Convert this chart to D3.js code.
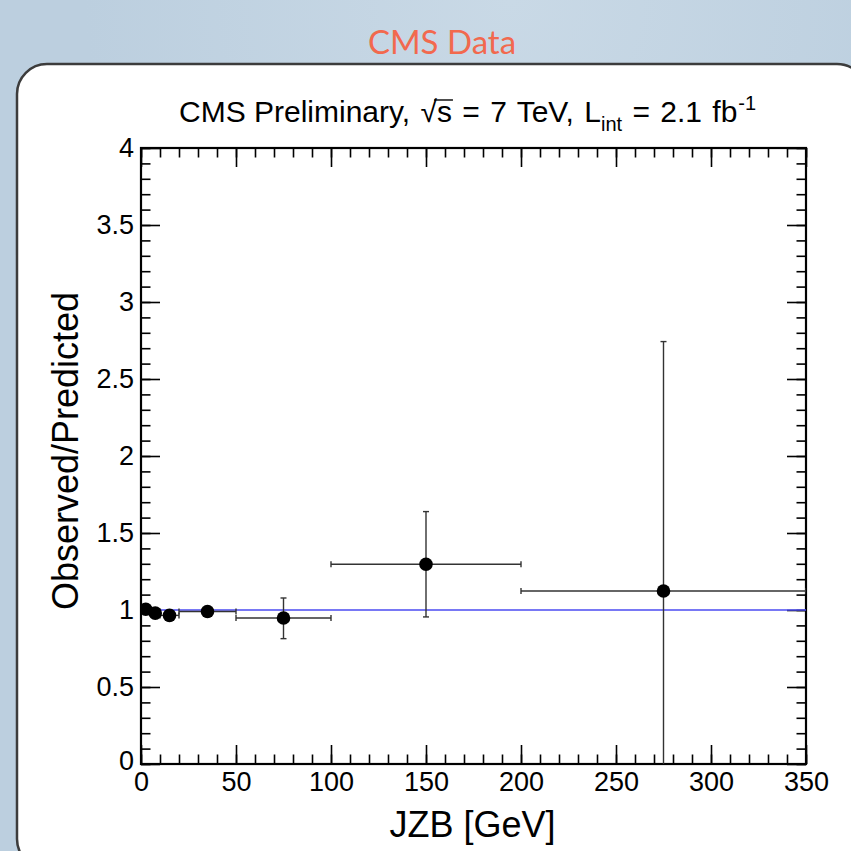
<!DOCTYPE html>
<html>
<head>
<meta charset="utf-8">
<script src="https://cdn.jsdelivr.net/npm/d3@7"></script>
<style>
  html, body { margin: 0; padding: 0; background: #bccfdf; overflow: hidden; }
  svg { display: block; }
  text { font-family: "Liberation Sans", Arial, Helvetica, sans-serif; }
</style>
</head>
<body>
<svg id="chart" width="851" height="851"></svg>
<script>
// JZB bins and observed/predicted ratio
const binLow = [0, 5, 10, 20, 50, 100, 200];
const binHigh = [5, 10, 20, 50, 100, 200, 350];
const binCenter = [2.5, 7.5, 15, 35, 75, 150, 275];
const ratio = [1.005, 0.98, 0.965, 0.99, 0.948, 1.297, 1.123];
const errDown = [0.012, 0.012, 0.012, 0.03, 0.134, 0.342, 1.2];
const errUp = [0.012, 0.012, 0.012, 0.03, 0.13, 0.342, 1.62];

const xMajor = [0, 50, 100, 150, 200, 250, 300, 350];
const yMajor = [0, 0.5, 1, 1.5, 2, 2.5, 3, 3.5, 4];
const xMinor = d3.range(0, 351, 10);
const yMinor = d3.range(0, 41).map(d => d / 10);

const points = binCenter.map((c, i) => ({
    x: c, lo: binLow[i], hi: binHigh[i],
    y: ratio[i], yLo: ratio[i] - errDown[i], yHi: ratio[i] + errUp[i]
}));

const svg = d3.select('#chart');

// background with a faint highlight
const defs = svg.append("defs");
const grad = defs.append("radialGradient").attr("id", "bgGlow")
    .attr("cx", "0.6").attr("cy", "0").attr("r", "0.5");
grad.append("stop").attr("offset", "0").attr("stop-color", "#c9d9e6");
grad.append("stop").attr("offset", "1").attr("stop-color", "#bccfdf");
svg.append("rect").attr("width", 851).attr("height", 851).attr("fill", "url(#bgGlow)");

svg.append("text")
    .attr("x", 442).attr("y", 54)
    .attr("text-anchor", "middle")
    .style("font-family", "Lato, 'Open Sans', sans-serif")
    .style("font-size", "33px")
    .style("fill", "#f2694e")
    .text("CMS Data");

// white panel
svg.append("rect")
    .attr("x", 17).attr("y", 64)
    .attr("width", 850).attr("height", 805)
    .attr("rx", 30).attr("ry", 30)
    .attr("fill", "#fff")
    .attr("stroke", "#3c3c3c")
    .attr("stroke-width", 2.5);

const pLeft = 141, pRight = 806, pTop = 148, pBottom = 764;

const x = d3.scaleLinear().domain([0, 350]).range([pLeft, pRight]);
const y = d3.scaleLinear().domain([0, 4]).range([pBottom, pTop]);

const fmtY = d => d === 0 ? "0" : d3.format("~g")(d);

// ticks, inward on all four sides
function addAxis(axisFn, scale, values, size, translate, labels, pad) {
    const g = svg.append("g")
        .attr("transform", translate)
        .call(axisFn(scale).tickValues(values).tickSize(-size)
            .tickPadding(pad || 0)
            .tickFormat(labels ? (axisFn === d3.axisLeft ? fmtY : d3.format("d")) : ""));
    g.select(".domain").remove();
    g.selectAll(".tick line").attr("stroke", "#000").attr("stroke-width", 1.6);
    g.selectAll(".tick text")
        .style("font-size", "27px")
        .attr("fill", "#000");
    return g;
}

addAxis(d3.axisBottom, x, xMinor, 9.5, `translate(0,${pBottom})`, false);
addAxis(d3.axisBottom, x, xMajor, 19, `translate(0,${pBottom})`, true, 8);
addAxis(d3.axisTop, x, xMinor, 9.5, `translate(0,${pTop})`, false);
addAxis(d3.axisTop, x, xMajor, 19, `translate(0,${pTop})`, false);
addAxis(d3.axisLeft, y, yMinor, 9.5, `translate(${pLeft},0)`, false);
const yAx = addAxis(d3.axisLeft, y, yMajor, 19, `translate(${pLeft},0)`, true, 7);
addAxis(d3.axisRight, y, yMinor, 9.5, `translate(${pRight},0)`, false);
addAxis(d3.axisRight, y, yMajor, 19, `translate(${pRight},0)`, false);

// the "0" of the y axis sits slightly raised
yAx.selectAll(".tick text").filter(d => d === 0).attr("dy", "0.2em");

// frame
svg.append("rect")
    .attr("x", pLeft).attr("y", pTop)
    .attr("width", pRight - pLeft).attr("height", pBottom - pTop)
    .attr("fill", "none").attr("stroke", "#000").attr("stroke-width", 2.2);

defs.append("clipPath").attr("id", "plotClip")
    .append("rect").attr("x", pLeft).attr("y", pTop)
    .attr("width", pRight - pLeft).attr("height", pBottom - pTop);

const plot = svg.append("g").attr("clip-path", "url(#plotClip)");

// reference line at 1
plot.append("line")
    .attr("x1", x(0)).attr("x2", x(350))
    .attr("y1", y(1)).attr("y2", y(1))
    .attr("stroke", "#4b4bf2").attr("stroke-width", 1.6);

const cap = 3;
const eb = plot.append("g").selectAll("g").data(points).join("g")
    .attr("stroke", "#333").attr("stroke-width", 1.4);

eb.append("line")
    .attr("x1", d => x(d.lo)).attr("x2", d => x(d.hi))
    .attr("y1", d => y(d.y)).attr("y2", d => y(d.y));
eb.append("line")
    .attr("x1", d => x(d.lo)).attr("x2", d => x(d.lo))
    .attr("y1", d => y(d.y) - cap).attr("y2", d => y(d.y) + cap);
eb.append("line")
    .attr("x1", d => x(d.hi)).attr("x2", d => x(d.hi))
    .attr("y1", d => y(d.y) - cap).attr("y2", d => y(d.y) + cap);
eb.append("line")
    .attr("x1", d => x(d.x)).attr("x2", d => x(d.x))
    .attr("y1", d => y(d.yLo)).attr("y2", d => y(d.yHi));
eb.append("line")
    .attr("x1", d => x(d.x) - cap).attr("x2", d => x(d.x) + cap)
    .attr("y1", d => y(d.yHi)).attr("y2", d => y(d.yHi));
eb.filter(d => d.yLo > 0).append("line")
    .attr("x1", d => x(d.x) - cap).attr("x2", d => x(d.x) + cap)
    .attr("y1", d => y(d.yLo)).attr("y2", d => y(d.yLo));

plot.append("g").selectAll("circle").data(points).join("circle")
    .attr("cx", d => x(d.x)).attr("cy", d => y(d.y))
    .attr("r", 6.8).attr("fill", "#000");

// axis titles
svg.append("text")
    .attr("x", (pLeft + pRight) / 2 - 1).attr("y", 837)
    .attr("text-anchor", "middle")
    .style("font-size", "36px")
    .text("JZB [GeV]");

svg.append("text")
    .attr("transform", "translate(78,451) rotate(-90)")
    .attr("text-anchor", "middle")
    .style("font-size", "36px")
    .text("Observed/Predicted");

// header
const titleParts = [
    { t: "CMS Preliminary,", dx: 0 },
    { t: " √", dx: 2 },
    { t: "s", dx: 0, over: true },
    { t: " =", dx: 2 },
    { t: " 7", dx: 2 },
    { t: " TeV,", dx: 2 },
    { t: " L", dx: 2 },
    { t: "int", dx: 0, size: 20, dy: 9 },
    { t: " =", dx: 2, dy: -9 },
    { t: " 2.1", dx: 2 },
    { t: " fb", dx: 2 },
    { t: "-1", dx: 1, size: 20, dy: -12 }
];
const title = svg.append("text")
    .attr("x", 179).attr("y", 122)
    .attr("xml:space", "preserve")
    .style("white-space", "pre")
    .style("font-size", "30px");
titleParts.forEach(p => {
    const s = title.append("tspan").attr("dx", p.dx).text(p.t);
    if (p.dy) s.attr("dy", p.dy);
    if (p.size) s.style("font-size", p.size + "px");
    if (p.over) s.classed("over", true);
});

// overline on the s of the square root
const sBox = title.select("tspan.over").node().getBBox();
svg.append("line")
    .attr("x1", sBox.x - 3).attr("x2", sBox.x + sBox.width + 1)
    .attr("y1", 122 - 22).attr("y2", 122 - 22)
    .attr("stroke", "#000").attr("stroke-width", 1.4);
</script>
</body>
</html>
